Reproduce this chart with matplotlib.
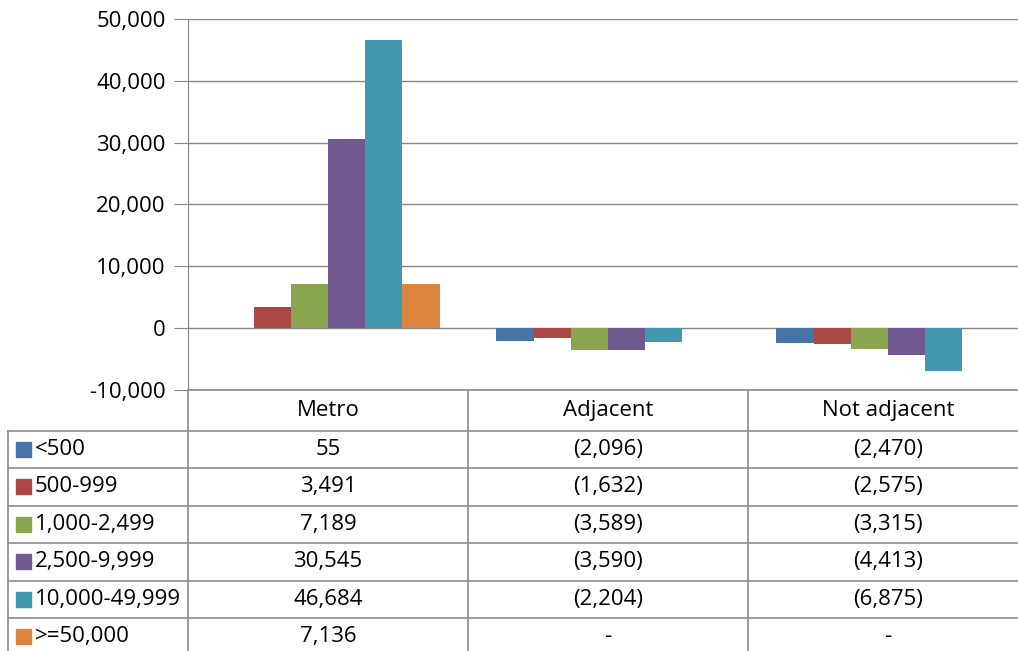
import matplotlib
matplotlib.use("Agg")
import matplotlib.pyplot as plt
from matplotlib.lines import Line2D
from matplotlib.patches import Rectangle
import numpy as np

categories = ["Metro", "Adjacent", "Not adjacent"]
series_names = ["<500", "500-999", "1,000-2,499", "2,500-9,999", "10,000-49,999", ">=50,000"]
s_lt500 = [55, -2096, -2470]
s_500_999 = [3491, -1632, -2575]
s_1000_2499 = [7189, -3589, -3315]
s_2500_9999 = [30545, -3590, -4413]
s_10000_49999 = [46684, -2204, -6875]
s_ge50000 = [7136, None, None]
series_values = [s_lt500, s_500_999, s_1000_2499, s_2500_9999, s_10000_49999, s_ge50000]
colors = ["#4572A7", "#AA4643", "#89A54E", "#71588F", "#4198AF", "#DB843D"]
y_ticks = [-10000, 0, 10000, 20000, 30000, 40000, 50000]

plt.rcParams['font.family'] = ['Open Sans', 'DejaVu Sans']
FS = 16
W, H = 1018, 651
fig = plt.figure(figsize=(W / 100, H / 100), dpi=100)

# pixel geometry (plot area extends slightly past the right image edge)
ax_l, ax_r, ax_t, ax_b = 188, 1028, 19, 390
ax = fig.add_axes([ax_l / W, 1 - ax_b / H, (ax_r - ax_l) / W, (ax_b - ax_t) / H])

n = len(series_names)
bw = 0.133
x = np.arange(len(categories))
for i, (vals, c) in enumerate(zip(series_values, colors)):
    pos = x + (i - (n - 1) / 2) * bw
    v = [np.nan if a is None else a for a in vals]
    ax.bar(pos, v, width=bw, color=c, zorder=3, linewidth=0)

ax.set_xlim(-0.5, 2.5)
ax.set_ylim(-10000, 50000)
ax.set_yticks(y_ticks)
ax.set_yticklabels([f"{t:,}" for t in y_ticks], fontsize=FS)
ax.set_xticks([])
ax.grid(axis="y", color="#868686", linewidth=1, zorder=0)
for s in ["top", "right", "bottom"]:
    ax.spines[s].set_visible(False)
ax.spines["left"].set_color("#868686")
ax.tick_params(axis="y", length=10, color="#868686", pad=6)

# table
def fx(px):
    return px / W

def fy(py):
    return 1 - py / H

line_c = "#8c8c8c"
def hline(y, x0, x1):
    fig.add_artist(Line2D([fx(x0), fx(x1)], [fy(y), fy(y)], color=line_c, lw=1.2))

def vline(x0, y0, y1):
    fig.add_artist(Line2D([fx(x0), fx(x0)], [fy(y0), fy(y1)], color=line_c, lw=1.2))

col_edges = [188, 468, 748, 1028]
row_edges = [390, 430.5, 468, 505.5, 543, 580.5, 618, 655]
left_x = 8

hline(row_edges[0], col_edges[0], col_edges[-1])
for r in row_edges[1:-1]:
    hline(r, left_x, col_edges[-1])
vline(left_x, row_edges[1], H)
for cx in col_edges[:-1]:
    vline(cx, row_edges[0], H)

# header
for j, cat in enumerate(categories):
    xc = (col_edges[j] + col_edges[j + 1]) / 2
    fig.text(fx(xc), fy((row_edges[0] + row_edges[1]) / 2), cat, ha="center", va="center", fontsize=FS)

def fmt(v):
    if v is None:
        return "-"
    if v < 0:
        return f"({-v:,})"
    return f"{v:,}"

for i, (name, vals, c) in enumerate(zip(series_names, series_values, colors)):
    yc = (row_edges[i + 1] + row_edges[i + 2]) / 2
    fig.add_artist(Rectangle((fx(16), fy(yc + 7.5)), 15 / W, 15 / H, color=c, transform=fig.transFigure))
    fig.text(fx(35), fy(yc), name, ha="left", va="center", fontsize=FS)
    for j, v in enumerate(vals):
        xc = (col_edges[j] + col_edges[j + 1]) / 2
        fig.text(fx(xc), fy(yc), fmt(v), ha="center", va="center", fontsize=FS)

fig.savefig("out.png", dpi=100)
